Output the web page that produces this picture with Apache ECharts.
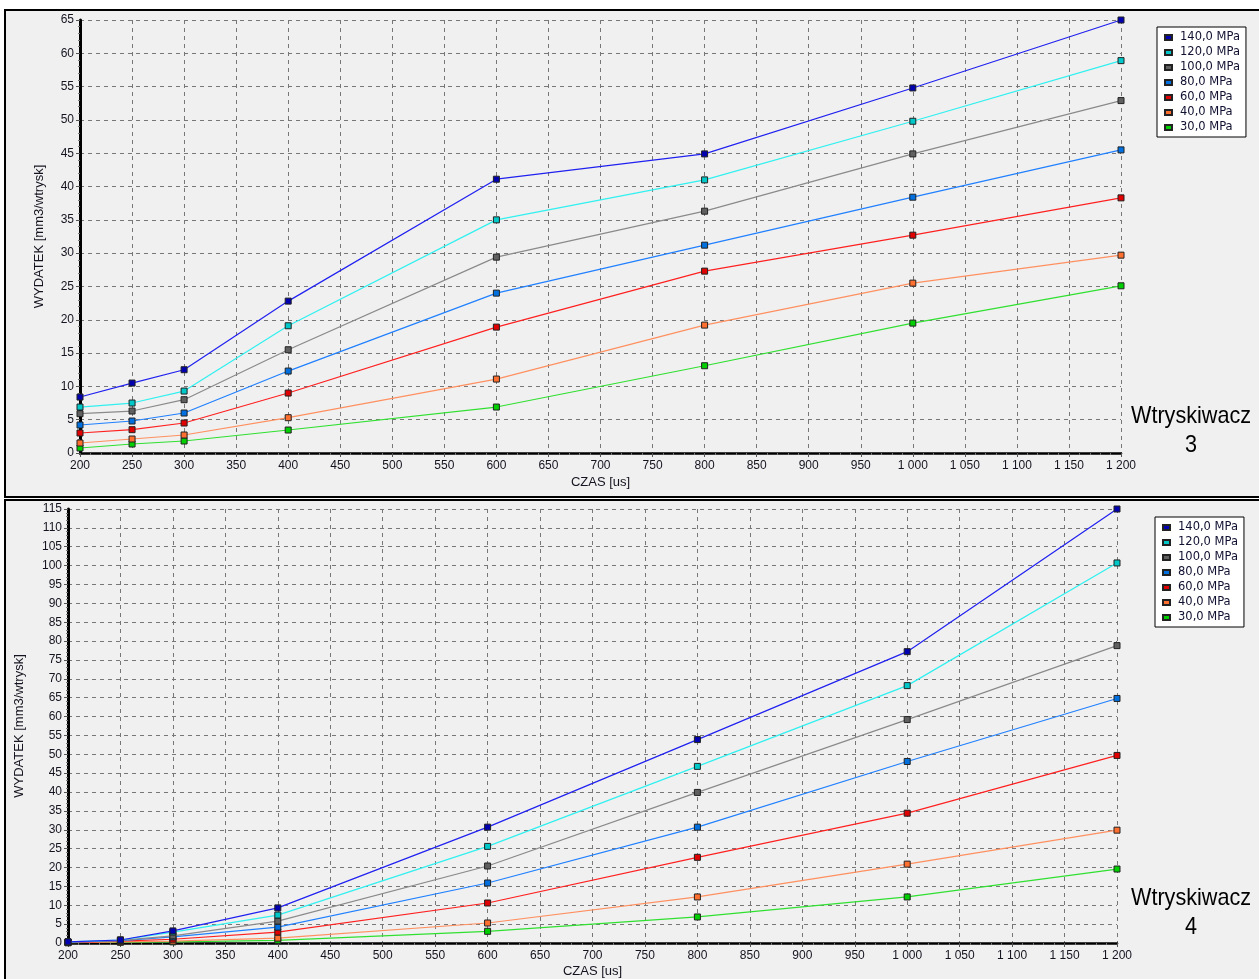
<!DOCTYPE html>
<html>
<head>
<meta charset="utf-8">
<style>
  html, body { margin: 0; padding: 0; background: #fff; }
  #chart { width: 1259px; height: 979px; }
</style>
<script src="https://cdn.jsdelivr.net/npm/echarts@6/dist/echarts.min.js"></script>
</head>
<body>
<div id="chart"></div>
<script>
// czas wtrysku [us]
const czas = [200, 250, 300, 400, 600, 800, 1000, 1200];
const cisnienia = ['140,0 MPa', '120,0 MPa', '100,0 MPa', '80,0 MPa', '60,0 MPa', '40,0 MPa', '30,0 MPa'];

// Wtryskiwacz 3 - wydatek [mm3/wtrysk]
const w3_140 = [8.4, 10.5, 12.5, 22.8, 41.1, 44.9, 54.8, 65.0];
const w3_120 = [6.9, 7.5, 9.3, 19.1, 35.0, 41.0, 49.8, 58.9];
const w3_100 = [5.9, 6.3, 8.0, 15.5, 29.4, 36.3, 44.9, 52.9];
const w3_80 = [4.2, 4.8, 6.0, 12.3, 24.0, 31.2, 38.4, 45.5];
const w3_60 = [3.0, 3.5, 4.5, 9.0, 18.9, 27.3, 32.7, 38.3];
const w3_40 = [1.5, 2.1, 2.7, 5.3, 11.1, 19.2, 25.5, 29.7];
const w3_30 = [0.75, 1.35, 1.8, 3.45, 6.9, 13.1, 19.5, 25.1];

// Wtryskiwacz 4 - wydatek [mm3/wtrysk]
const w4_140 = [0.3, 0.8, 3.2, 9.3, 30.7, 53.9, 77.2, 115.0];
const w4_120 = [0.3, 0.8, 2.9, 7.4, 25.6, 46.8, 68.2, 100.7];
const w4_100 = [0.2, 0.7, 1.9, 5.8, 20.4, 39.9, 59.2, 78.8];
const w4_80 = [0.2, 0.6, 1.6, 4.2, 15.9, 30.7, 48.1, 64.8];
const w4_60 = [0.1, 0.5, 1.0, 2.9, 10.6, 22.7, 34.4, 49.7];
const w4_40 = [0.1, 0.3, 0.5, 1.3, 5.3, 12.2, 20.9, 29.9];
const w4_30 = [0.1, 0.2, 0.3, 0.7, 3.1, 6.9, 12.2, 19.6];

const lineColors = ['#2020f0', '#30f0f0', '#8a8a8a', '#2080ff', '#ff2020', '#ff9060', '#30e030'];
const markColors = ['#0000b0', '#00c8c8', '#606060', '#0070e0', '#e00000', '#ff7030', '#00d000'];

const chart = echarts.init(document.getElementById('chart'));

const labelFont = { fontFamily: 'Liberation Sans, Arial, sans-serif', fontSize: 12, color: '#141420' };

function fmtX(v) {
    return v >= 1000 ? Math.floor(v / 1000) + ' ' + String(v % 1000).padStart(3, '0') : String(v);
}

function xAxisFor(gridIndex, gap) {
    return {
        type: 'value', gridIndex: gridIndex, min: 200, max: 1200, interval: 50,
        name: 'CZAS [us]', nameLocation: 'middle', nameGap: gap,
        nameTextStyle: { fontFamily: 'Liberation Sans, Arial', fontSize: 13, color: '#141420' },
        axisLine: { lineStyle: { color: '#000', width: 2.5 } },
        axisTick: { show: true, length: 4, lineStyle: { color: '#555' } },
        minorTick: { show: true, splitNumber: 5, length: 2, lineStyle: { color: '#777' } },
        axisLabel: Object.assign({ margin: 7, formatter: fmtX }, labelFont),
        splitLine: { show: true, lineStyle: { color: '#777', type: [4, 4], width: 1 } }
    };
}

function yAxisFor(gridIndex, max, gap) {
    return {
        type: 'value', gridIndex: gridIndex, min: 0, max: max, interval: 5,
        name: 'WYDATEK [mm3/wtrysk]', nameLocation: 'middle', nameGap: gap,
        nameTextStyle: { fontFamily: 'Liberation Sans, Arial', fontSize: 13, color: '#141420' },
        axisLine: { show: true, lineStyle: { color: '#000', width: 3 } },
        axisTick: { show: true, length: 4, lineStyle: { color: '#555' } },
        minorTick: { show: true, splitNumber: 5, length: 2, lineStyle: { color: '#777' } },
        axisLabel: Object.assign({ margin: 6 }, labelFont),
        splitLine: { show: true, lineStyle: { color: '#777', type: [4, 4], width: 1 } }
    };
}

function makeSeries(arrays, idx) {
    return arrays.map((vals, i) => ({
        name: cisnienia[i],
        type: 'line',
        xAxisIndex: idx, yAxisIndex: idx,
        data: czas.map((x, j) => [x, vals[j]]),
        symbol: 'rect', symbolSize: 6,
        showSymbol: true,
        lineStyle: { color: lineColors[i], width: 1.2 },
        itemStyle: { color: markColors[i], borderColor: '#222', borderWidth: 1 },
        z: 10 - i
    }));
}

function legendFor(left, top) {
    return {
        data: cisnienia, orient: 'vertical', left: left, top: top,
        backgroundColor: '#fff', borderColor: '#000', borderWidth: 1,
        padding: [3, 6, 2, 7], itemGap: 0, itemWidth: 7, itemHeight: 5,
        icon: 'rect',
        textStyle: { fontFamily: 'DejaVu Sans, Verdana', fontSize: 11.5, color: '#101030', lineHeight: 15, padding: [0, 0, 0, 3] }
    };
}

function panelText(y, n) {
    return {
        type: 'text', x: 1191, y: y, scaleX: 0.9,
        style: { text: 'Wtryskiwacz\n' + n, fontFamily: 'Liberation Sans, Arial', fontSize: 24, lineHeight: 29,
                 align: 'center', verticalAlign: 'top', fill: '#000' }
    };
}

chart.setOption({
    animation: false,
    backgroundColor: '#fff',
    graphic: [
        { type: 'rect', z: -10, shape: { x: 5, y: 10, width: 1260, height: 487 },
          style: { fill: '#f0f0f0', stroke: '#000', lineWidth: 2 } },
        { type: 'rect', z: -10, shape: { x: 5, y: 500, width: 1260, height: 490 },
          style: { fill: '#f0f0f0', stroke: '#000', lineWidth: 2 } },
        panelText(402, 3),
        panelText(884, 4)
    ],
    grid: [
        { left: 80, top: 20, width: 1041, height: 433 },
        { left: 68, top: 509, width: 1049, height: 435 }
    ],
    legend: [legendFor(1157, 27), legendFor(1155, 517)],
    xAxis: [xAxisFor(0, 23), xAxisFor(1, 22)],
    yAxis: [yAxisFor(0, 65, 34), yAxisFor(1, 115, 42)],
    series: makeSeries([w3_140, w3_120, w3_100, w3_80, w3_60, w3_40, w3_30], 0)
        .concat(makeSeries([w4_140, w4_120, w4_100, w4_80, w4_60, w4_40, w4_30], 1))
});
</script>
</body>
</html>
